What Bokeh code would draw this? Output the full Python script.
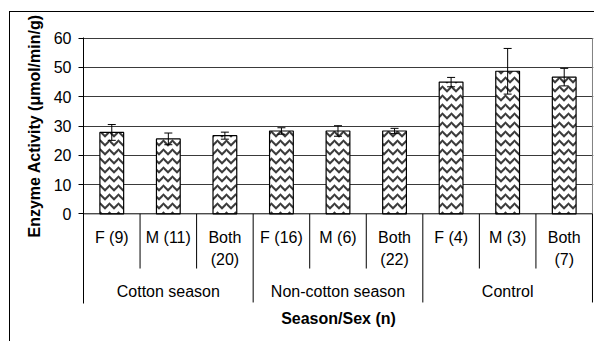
from bokeh.plotting import figure
from bokeh.models import (Range1d, FixedTicker, ColumnDataSource, Whisker, TeeHead, Title)
from bokeh.core.properties import value
from bokeh.embed import file_html
from bokeh.resources import INLINE

# ---- data ----
groups = ["Cotton season", "Non-cotton season", "Control"]
sub_line1 = ["F (9)", "M (11)", "Both", "F (16)", "M (6)", "Both", "F (4)", "M (3)", "Both"]
sub_line2 = ["", "", "(20)", "", "", "(22)", "", "", "(7)"]
activity = [27.8, 25.6, 26.7, 28.3, 28.3, 28.3, 45.0, 48.7, 46.7]
error = [2.7, 2.0, 1.2, 1.1, 1.8, 0.9, 1.6, 7.8, 3.0]
y_ticks = [0, 10, 20, 30, 40, 50, 60]

FONT = "Liberation Sans"
n = len(activity)
per_group = n // len(groups)
pos = [i + 0.5 for i in range(n)]
group_pos = [g * per_group + per_group / 2 for g in range(len(groups))]
sub_sep = [i for i in range(1, n) if i % per_group != 0]
grp_sep = [g * per_group for g in range(1, len(groups) + 1)]

src = ColumnDataSource(dict(
    x=pos, top=activity,
    upper=[a + e for a, e in zip(activity, error)],
    lower=[a - e for a, e in zip(activity, error)],
))

p = figure(width=585, height=330,
           x_range=Range1d(0, 9.018), y_range=Range1d(-30.65, 60.24),
           output_backend="svg", toolbar_location=None,
           min_border_left=73, min_border_right=2,
           min_border_top=25, min_border_bottom=39)
p.styles = {"position": "relative", "left": "9px", "top": "11px",
            "border-top": "1px solid #000", "border-left": "1px solid #000"}
p.outline_line_color = None
p.background_fill_color = "white"

# y axis
p.yaxis.ticker = FixedTicker(ticks=y_ticks)
p.yaxis.major_label_text_font = FONT
p.yaxis.major_label_text_font_size = "16px"
p.yaxis.major_label_text_color = "black"
p.yaxis.major_tick_out = 5
p.yaxis.major_tick_in = 0
p.yaxis.minor_tick_line_color = None
p.yaxis.major_label_standoff = 7
p.yaxis.axis_line_color = "black"
p.yaxis.major_tick_line_color = "black"

# x axis: only its title
p.xaxis.ticker = FixedTicker(ticks=[])
p.xaxis.axis_line_color = None
p.xaxis.major_tick_line_color = None
p.xaxis.minor_tick_line_color = None
p.xaxis.axis_label = "Season/Sex (n)"
p.xaxis.axis_label_text_font = FONT
p.xaxis.axis_label_text_font_size = "16px"
p.xaxis.axis_label_text_font_style = "bold"
p.xaxis.axis_label_text_color = "black"
p.xaxis.axis_label_standoff = 6

# y title placed alongside the plot area
yt = Title(text="Enzyme Activity (\u03bcmol/min/g)", align="left",
           text_font=FONT, text_font_size="16px", text_font_style="bold",
           text_color="black", standoff=16, offset=66)
p.add_layout(yt, "left")

p.xgrid.visible = False
p.ygrid.ticker = FixedTicker(ticks=y_ticks[1:])
p.ygrid.grid_line_color = "#3a3a3a"
p.ygrid.grid_line_width = 1

# bars
p.vbar(x="x", top="top", bottom=0, width=0.42, source=src,
       fill_color="white", line_color="black", line_width=1.2,
       hatch_pattern="horizontal_wave", hatch_color="#3c3c3c",
       hatch_scale=9, hatch_weight=2)

w = Whisker(source=src, base="x", upper="upper", lower="lower",
            line_color="black", line_width=1,
            upper_head=TeeHead(size=8, line_color="black", line_width=1),
            lower_head=TeeHead(size=8, line_color="black", line_width=1),
            level="overlay")
p.add_layout(w)

# plot-area right border
p.segment(x0=[n], y0=[0], x1=[n], y1=[y_ticks[-1]], line_color="#808080", line_width=1)
# category axis line
p.segment(x0=[0], y0=[0], x1=[n], y1=[0], line_color="black", line_width=1)
# separators
p.segment(x0=sub_sep, y0=[0] * len(sub_sep), x1=sub_sep, y1=[-18.7] * len(sub_sep),
          line_color="black", line_width=1)
p.segment(x0=grp_sep, y0=[0] * len(grp_sep), x1=grp_sep, y1=[-30.3] * len(grp_sep),
          line_color="black", line_width=1)

# category labels
p.text(x=pos, y=[-8.0] * n, text=sub_line1, text_font=value(FONT),
       text_font_size="16px", text_color="black",
       text_align="center", text_baseline="middle")
p.text(x=pos, y=[-15.6] * n, text=sub_line2, text_font=value(FONT),
       text_font_size="16px", text_color="black",
       text_align="center", text_baseline="middle")
p.text(x=group_pos, y=[-26.45] * len(groups), text=groups, text_font=value(FONT),
       text_font_size="16px", text_color="black",
       text_align="center", text_baseline="middle")

open("out.html", "w").write(file_html(p, INLINE))
